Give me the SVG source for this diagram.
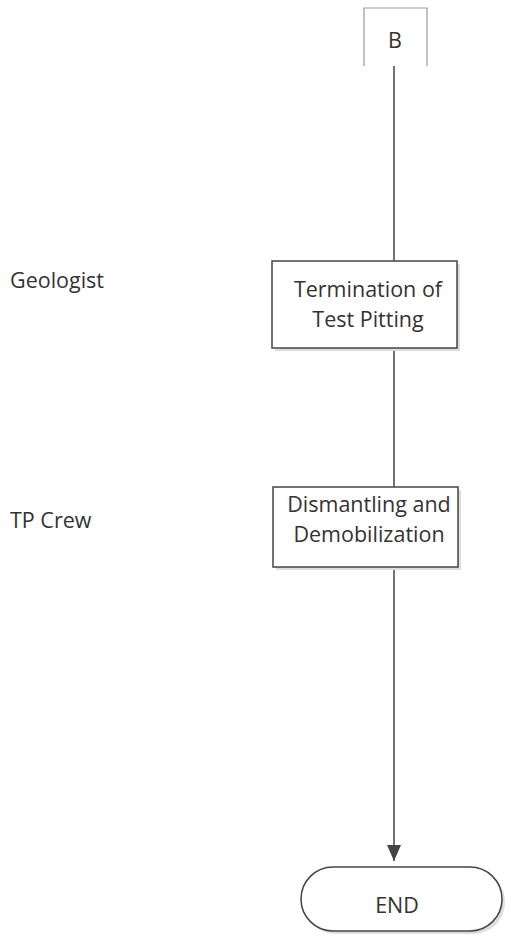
<svg xmlns="http://www.w3.org/2000/svg" width="511" height="938" viewBox="0 0 511 938">
<style>
.box{fill:#fff;stroke:#444;stroke-width:1.5}
.shadow{fill:#ddd;stroke:none}
.t{font-family:"Open Sans","Liberation Sans",sans-serif;font-size:21.5px;fill:#333}
.c{text-anchor:middle}
.ln{stroke:#444;stroke-width:1.5;fill:none}
</style>
<defs>
<marker id="ah" markerWidth="16" markerHeight="14" refX="16" refY="7" orient="auto" markerUnits="userSpaceOnUse" viewBox="0 0 16 14">
<path d="M0,0 L16,7 L0,14 z" fill="#444"/>
</marker>
</defs>
<g id="lanes">
<text class="t" x="10" y="288">Geologist</text>
<text class="t" x="10" y="528">TP Crew</text>
</g>
<g id="connectors">
<line class="ln" x1="394" y1="66" x2="394" y2="261"/>
<line class="ln" x1="394" y1="348" x2="394" y2="487"/>
<path class="ln" d="M394,567 L394,861" marker-end="url(#ah)"/>
</g>
<g id="B">
<path d="M364,66 V8 H427 V66" fill="none" stroke="#999" stroke-width="1.2"/>
<text class="t c" x="395" y="48">B</text>
</g>
<g id="termination">
<rect class="shadow" x="275" y="264" width="185" height="87"/>
<rect class="box" x="272" y="261" width="185" height="87"/>
<text class="t c" x="368" y="297">Termination of</text>
<text class="t c" x="368" y="327">Test Pitting</text>
</g>
<g id="dismantling">
<rect class="shadow" x="276" y="490" width="185" height="80"/>
<rect class="box" x="273" y="487" width="185" height="80"/>
<text class="t c" x="369" y="512">Dismantling and</text>
<text class="t c" x="369" y="542">Demobilization</text>
</g>
<g id="end">
<rect class="shadow" x="304" y="870" width="201" height="64" rx="32"/>
<rect class="box" x="301" y="867" width="201" height="64" rx="32"/>
<text class="t c" x="397" y="913">END</text>
</g>
</svg>
